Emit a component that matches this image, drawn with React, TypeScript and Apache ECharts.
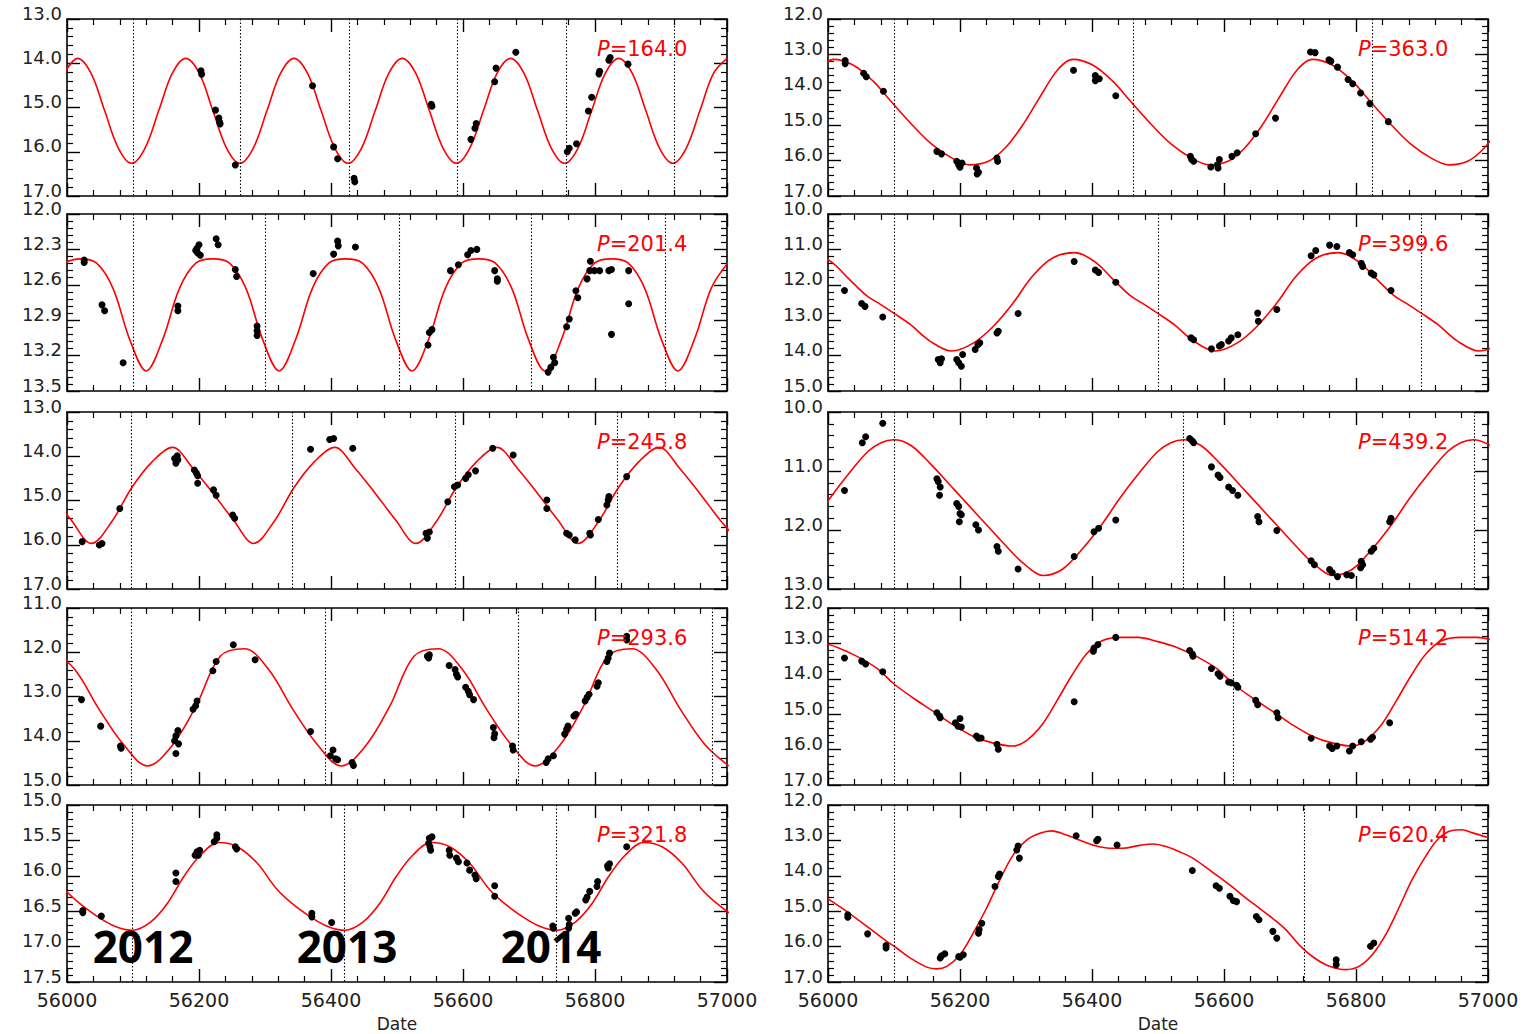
import React, { useEffect, useRef } from "react";
import * as echarts from "echarts";

type Pt = [number, number];

// ---------- axis settings ----------
const X_MIN = 56000;
const X_MAX = 57000;
const X_STEP = 200;
const periodLabels = ["164.0", "201.4", "245.8", "293.6", "321.8", "363.0", "399.6", "439.2", "514.2", "620.4"];
const yMins = [13, 12, 13, 11, 15, 12, 10, 10, 12, 12];
const yMaxs = [17, 13.5, 17, 15, 17.5, 17, 15, 13, 17, 17];
const ySteps = [1, 0.3, 1, 1, 0.5, 1, 1, 1, 1, 1];
const yearLabels = ["2012", "2013", "2014"];

// ---------- P = 164.0 ----------
const curve164: Pt[] = [[55995.5,14.23],[56016,13.89],[56036.5,14.23],[56057,15.07],[56077.5,15.91],[56098,16.26],[56118.5,15.91],[56139,15.07],[56159.5,14.23],[56180,13.89],[56200.5,14.23],[56221,15.07],[56241.5,15.91],[56262,16.26],[56282.5,15.91],[56303,15.07],[56323.5,14.23],[56344,13.89],[56364.5,14.23],[56385,15.07],[56405.5,15.91],[56426,16.26],[56446.5,15.91],[56467,15.07],[56487.5,14.23],[56508,13.89],[56528.5,14.23],[56549,15.07],[56569.5,15.91],[56590,16.26],[56610.5,15.91],[56631,15.07],[56651.5,14.23],[56672,13.89],[56692.5,14.23],[56713,15.07],[56733.5,15.91],[56754,16.26],[56774.5,15.91],[56795,15.07],[56815.5,14.23],[56836,13.89],[56856.5,14.23],[56877,15.07],[56897.5,15.91],[56918,16.26],[56938.5,15.91],[56959,15.07],[56979.5,14.23],[57000,13.89]];
const obs164: Pt[] = [[56203,14.17],[56204,14.25],[56225,15.06],[56230,15.24],[56231,15.33],[56232,15.37],[56255,16.30],[56372,14.51],[56404,15.89],[56410,16.16],[56435,16.60],[56436,16.68],[56552,14.93],[56553,14.97],[56612,15.72],[56618,15.47],[56620,15.36],[56648,14.42],[56650,14.11],[56680,13.75],[56758,16.00],[56761,15.92],[56772,15.82],[56790,15.08],[56795,14.77],[56806,14.24],[56807,14.18],[56821,13.93],[56823,13.87],[56850,14.02]];
const dotted164 = [56100, 56262, 56427, 56592, 56756, 56920];

// ---------- P = 201.4 ----------
const curve201: Pt[] = [[55994.1,12.415],[56019.3,12.38],[56044.5,12.415],[56069.7,12.63],[56094.8,13.06],[56120,13.33],[56145.2,13.06],[56170.4,12.63],[56195.5,12.415],[56220.7,12.38],[56245.9,12.415],[56271.1,12.63],[56296.2,13.06],[56321.4,13.33],[56346.6,13.06],[56371.8,12.63],[56396.9,12.415],[56422.1,12.38],[56447.3,12.415],[56472.5,12.63],[56497.6,13.06],[56522.8,13.33],[56548,13.06],[56573.2,12.63],[56598.3,12.415],[56623.5,12.38],[56648.7,12.415],[56673.9,12.63],[56699,13.06],[56724.2,13.33],[56749.4,13.06],[56774.6,12.63],[56799.7,12.415],[56824.9,12.38],[56850.1,12.415],[56875.3,12.63],[56900.4,13.06],[56925.6,13.33],[56950.8,13.06],[56976,12.63],[57001.1,12.415]];
const obs201: Pt[] = [[56026,12.39],[56026,12.41],[56053,12.77],[56057,12.82],[56085,13.26],[56168,12.78],[56168,12.82],[56195,12.31],[56197,12.29],[56198,12.33],[56200,12.26],[56202,12.35],[56226,12.21],[56229,12.26],[56255,12.47],[56257,12.53],[56288,12.95],[56288,12.99],[56288,13.03],[56373,12.505],[56404,12.34],[56410,12.23],[56411,12.27],[56437,12.28],[56547,13.11],[56549,13.005],[56553,12.98],[56581,12.48],[56593,12.43],[56607,12.345],[56612,12.31],[56621,12.30],[56648,12.48],[56652,12.55],[56652,12.57],[56729,13.34],[56733,13.30],[56737,13.215],[56739,13.26],[56757,12.955],[56761,12.89],[56771,12.65],[56774,12.71],[56788,12.55],[56792,12.48],[56793,12.40],[56799,12.48],[56807,12.48],[56821,12.48],[56825,12.47],[56825,13.02],[56851,12.48],[56851,12.76]];
const dotted201 = [56100, 56301, 56503, 56704, 56906];

// ---------- P = 245.8 ----------
const curve245: Pt[] = [[55975.6,14.84],[56006.3,15.44],[56037,15.97],[56067.7,15.48],[56098.5,14.70],[56129.2,14.12],[56159.9,13.80],[56190.6,14.27],[56221.4,14.84],[56252.1,15.44],[56282.8,15.97],[56313.5,15.48],[56344.3,14.70],[56375,14.12],[56405.7,13.80],[56436.4,14.27],[56467.2,14.84],[56497.9,15.44],[56528.6,15.97],[56559.3,15.48],[56590.1,14.70],[56620.8,14.12],[56651.5,13.80],[56682.2,14.27],[56713,14.84],[56743.7,15.44],[56774.4,15.97],[56805.1,15.48],[56835.9,14.70],[56866.6,14.12],[56897.3,13.80],[56928,14.27],[56958.8,14.84],[56989.5,15.44],[57020.2,15.97]];
const obs245: Pt[] = [[56023,15.93],[56049,16.005],[56053,15.97],[56080,15.18],[56163,14.05],[56165,14.16],[56167,13.99],[56168,14.08],[56193,14.31],[56196,14.38],[56198,14.44],[56198,14.61],[56222,14.76],[56226,14.88],[56251,15.33],[56254,15.40],[56369,13.84],[56398,13.62],[56404,13.60],[56433,13.82],[56544,15.74],[56546,15.85],[56549,15.71],[56577,15.03],[56587,14.69],[56592,14.65],[56604,14.50],[56608,14.42],[56619,14.33],[56645,13.82],[56676,13.97],[56727,14.99],[56727,15.18],[56757,15.74],[56761,15.78],[56770,15.89],[56792,15.74],[56793,15.78],[56805,15.43],[56818,15.10],[56820,14.99],[56821,14.91],[56848,14.46]];
const dotted245 = [56097, 56342, 56588, 56834];

// ---------- P = 293.6 ----------
const curve293: Pt[] = [[55975.2,11.92],[56011.9,12.39],[56048.6,13.29],[56085.3,14.08],[56122,14.57],[56158.7,14.12],[56195.4,13.22],[56232.1,12.09],[56268.8,11.92],[56305.5,12.39],[56342.2,13.29],[56378.9,14.08],[56415.6,14.57],[56452.3,14.12],[56489,13.22],[56525.7,12.09],[56562.4,11.92],[56599.1,12.39],[56635.8,13.29],[56672.5,14.08],[56709.2,14.57],[56745.9,14.12],[56782.6,13.22],[56819.3,12.09],[56856,11.92],[56892.7,12.39],[56929.4,13.29],[56966.1,14.08],[57002.8,14.57]];
const obs293: Pt[] = [[56022,13.07],[56051,13.67],[56081,14.12],[56082,14.17],[56163,14.00],[56165,13.89],[56168,13.77],[56169,14.07],[56165,14.29],[56191,13.29],[56195,13.21],[56197,13.10],[56221,12.42],[56226,12.21],[56252,11.83],[56285,12.17],[56369,13.79],[56399,14.34],[56403,14.21],[56407,14.41],[56410,14.43],[56432,14.49],[56434,14.56],[56546,12.09],[56548,12.13],[56549,12.06],[56579,12.30],[56588,12.39],[56590,12.50],[56592,12.56],[56604,12.79],[56608,12.88],[56610,12.96],[56616,13.07],[56646,13.70],[56647,13.93],[56648,13.84],[56675,14.12],[56676,14.21],[56726,14.49],[56729,14.41],[56737,14.34],[56754,13.85],[56757,13.74],[56759,13.67],[56768,13.44],[56771,13.40],[56785,13.10],[56788,13.02],[56791,12.95],[56803,12.77],[56805,12.69],[56818,12.21],[56820,12.13],[56822,12.02],[56848,11.72],[56848,11.64]];
const dotted293 = [56097, 56391, 56684, 56978];

// ---------- P = 321.8 ----------
const curve321: Pt[] = [[55966.2,15.82],[55997.2,16.20],[56027.2,16.45],[56057.2,16.64],[56077.2,16.73],[56099,16.77],[56127,16.65],[56152,16.39],[56177,16.01],[56202,15.71],[56230,15.53],[56258,15.59],[56288,15.82],[56319,16.20],[56349,16.45],[56379,16.64],[56399,16.73],[56420.8,16.77],[56448.8,16.65],[56473.8,16.39],[56498.8,16.01],[56523.8,15.71],[56551.8,15.53],[56579.8,15.59],[56609.8,15.82],[56640.8,16.20],[56670.8,16.45],[56700.8,16.64],[56720.8,16.73],[56742.6,16.77],[56770.6,16.65],[56795.6,16.39],[56820.6,16.01],[56845.6,15.71],[56873.6,15.53],[56901.6,15.59],[56931.6,15.82],[56962.6,16.20],[56992.6,16.45],[57022.6,16.64]];
const obs321: Pt[] = [[56024,16.49],[56024,16.52],[56052,16.57],[56165,15.96],[56165,16.08],[56194,15.71],[56197,15.66],[56199,15.71],[56201,15.64],[56223,15.52],[56227,15.42],[56227,15.47],[56255,15.59],[56257,15.62],[56371,16.53],[56371,16.58],[56401,16.66],[56548,15.54],[56549,15.47],[56550,15.59],[56551,15.64],[56553,15.45],[56579,15.64],[56580,15.71],[56590,15.75],[56593,15.80],[56606,15.82],[56610,15.92],[56618,15.99],[56620,16.04],[56648,16.14],[56648,16.29],[56736,16.71],[56737,16.74],[56760,16.60],[56760,16.74],[56761,16.69],[56770,16.53],[56772,16.51],[56786,16.34],[56788,16.30],[56792,16.22],[56803,16.15],[56804,16.08],[56819,15.86],[56820,15.89],[56822,15.83],[56848,15.59]];
const dotted321 = [56099, 56420, 56741];

// ---------- P = 363.0 ----------
const curve363: Pt[] = [[55995,13.25],[56008,13.14],[56038,13.30],[56068,13.75],[56098,14.38],[56128,15.00],[56158,15.55],[56188,15.93],[56215,16.12],[56243,16.02],[56268,15.65],[56293,15.05],[56318,14.30],[56343,13.55],[56358,13.25],[56371,13.14],[56401,13.30],[56431,13.75],[56461,14.38],[56491,15.00],[56521,15.55],[56551,15.93],[56578,16.12],[56606,16.02],[56631,15.65],[56656,15.05],[56681,14.30],[56706,13.55],[56721,13.25],[56734,13.14],[56764,13.30],[56794,13.75],[56824,14.38],[56854,15.00],[56884,15.55],[56914,15.93],[56941,16.12],[56969,16.02],[56994,15.65],[57019,15.05]];
const obs363: Pt[] = [[56026,13.17],[56026,13.26],[56054,13.53],[56058,13.63],[56084,14.04],[56165,15.74],[56172,15.81],[56195,16.02],[56198,16.12],[56200,16.19],[56203,16.07],[56225,16.21],[56228,16.33],[56226,16.38],[56256,15.93],[56257,16.02],[56372,13.45],[56405,13.60],[56405,13.74],[56411,13.69],[56436,14.17],[56549,15.88],[56551,15.97],[56554,16.02],[56580,16.18],[56590,16.12],[56591,16.21],[56593,15.97],[56612,15.88],[56620,15.78],[56648,15.24],[56678,14.80],[56731,12.93],[56738,12.95],[56759,13.15],[56762,13.19],[56772,13.36],[56788,13.71],[56795,13.83],[56807,14.09],[56821,14.39],[56849,14.90]];
const dotted363 = [56100, 56462, 56825];

// ---------- P = 399.6 ----------
const curve399: Pt[] = [[55974,11.09],[56004,11.34],[56032,11.84],[56058,12.30],[56080,12.56],[56099.6,12.80],[56124.6,13.12],[56154.6,13.59],[56187.6,13.87],[56220.6,13.64],[56250.6,13.17],[56280.6,12.51],[56309.6,11.76],[56339.6,11.25],[56373.6,11.09],[56403.6,11.34],[56431.6,11.84],[56457.6,12.30],[56479.6,12.56],[56499.2,12.80],[56524.2,13.12],[56554.2,13.59],[56587.2,13.87],[56620.2,13.64],[56650.2,13.17],[56680.2,12.51],[56709.2,11.76],[56739.2,11.25],[56773.2,11.09],[56803.2,11.34],[56831.2,11.84],[56857.2,12.30],[56879.2,12.56],[56898.8,12.80],[56923.8,13.12],[56953.8,13.59],[56986.8,13.87],[57019.8,13.64]];
const obs399: Pt[] = [[56025,12.16],[56051,12.53],[56056,12.61],[56083,12.91],[56167,14.11],[56170,14.20],[56172,14.09],[56195,14.11],[56198,14.20],[56202,14.30],[56204,13.97],[56223,13.83],[56227,13.69],[56230,13.64],[56256,13.36],[56258,13.31],[56288,12.81],[56373,11.34],[56405,11.58],[56410,11.65],[56436,11.93],[56550,13.50],[56554,13.55],[56581,13.81],[56593,13.73],[56596,13.69],[56607,13.59],[56611,13.50],[56621,13.41],[56651,12.80],[56652,13.03],[56680,12.70],[56732,11.18],[56739,11.03],[56760,10.88],[56771,10.92],[56790,11.09],[56795,11.15],[56808,11.39],[56810,11.48],[56823,11.67],[56827,11.72],[56853,12.16]];
const dotted399 = [56100, 56500, 56899];

// ---------- P = 439.2 ----------
const curve439: Pt[] = [[55975.4,11.91],[56002.4,11.47],[56030.4,11.06],[56060.4,10.67],[56080.4,10.52],[56099.6,10.47],[56124.6,10.56],[56154.6,10.87],[56191.6,11.32],[56228.6,11.77],[56265.6,12.22],[56295.6,12.56],[56326.6,12.77],[56354.6,12.67],[56384.6,12.33],[56414.6,11.91],[56441.6,11.47],[56469.6,11.06],[56499.6,10.67],[56519.6,10.52],[56538.8,10.47],[56563.8,10.56],[56593.8,10.87],[56630.8,11.32],[56667.8,11.77],[56704.8,12.22],[56734.8,12.56],[56765.8,12.77],[56793.8,12.67],[56823.8,12.33],[56853.8,11.91],[56880.8,11.47],[56908.8,11.06],[56938.8,10.67],[56958.8,10.52],[56978,10.47],[57003,10.56]];
const obs439: Pt[] = [[56025,11.33],[56052,10.52],[56057,10.42],[56083,10.19],[56165,11.13],[56167,11.18],[56170,11.27],[56169,11.41],[56195,11.55],[56198,11.60],[56200,11.72],[56199,11.86],[56202,11.74],[56224,11.91],[56228,12.00],[56256,12.28],[56258,12.36],[56288,12.66],[56373,12.45],[56403,12.03],[56410,11.97],[56436,11.83],[56548,10.45],[56552,10.49],[56554,10.52],[56581,10.93],[56591,11.07],[56594,11.11],[56607,11.27],[56613,11.33],[56621,11.41],[56651,11.77],[56653,11.86],[56680,12.01],[56732,12.52],[56737,12.59],[56760,12.67],[56764,12.72],[56772,12.79],[56786,12.76],[56793,12.77],[56807,12.64],[56808,12.53],[56810,12.59],[56823,12.36],[56827,12.31],[56851,11.86],[56853,11.80]];
const dotted439 = [56100, 56538, 56979];

// ---------- P = 514.2 ----------
const curve514: Pt[] = [[55985.4,12.95],[56015.4,13.12],[56045.4,13.38],[56075.4,13.72],[56099.6,14.14],[56129.6,14.55],[56159.6,14.92],[56189.6,15.30],[56219.6,15.62],[56249.6,15.81],[56279.6,15.90],[56299.6,15.76],[56324.6,15.29],[56346.6,14.63],[56369.6,13.90],[56391.6,13.30],[56414.6,12.93],[56444.6,12.83],[56469.6,12.83],[56499.6,12.95],[56529.6,13.12],[56559.6,13.38],[56589.6,13.72],[56613.8,14.14],[56643.8,14.55],[56673.8,14.92],[56703.8,15.30],[56733.8,15.62],[56763.8,15.81],[56793.8,15.90],[56813.8,15.76],[56838.8,15.29],[56860.8,14.63],[56883.8,13.90],[56905.8,13.30],[56928.8,12.93],[56958.8,12.83],[56983.8,12.83],[57013.8,12.95]];
const obs514: Pt[] = [[56025,13.41],[56051,13.50],[56057,13.58],[56083,13.80],[56165,14.96],[56169,15.05],[56170,15.10],[56193,15.24],[56197,15.34],[56200,15.12],[56202,15.36],[56225,15.62],[56228,15.68],[56232,15.67],[56256,15.85],[56258,15.99],[56373,14.65],[56402,13.22],[56403,13.13],[56409,13.03],[56436,12.83],[56548,13.20],[56552,13.30],[56553,13.36],[56581,13.71],[56591,13.86],[56594,13.93],[56607,14.09],[56611,14.11],[56619,14.18],[56621,14.24],[56648,14.61],[56651,14.73],[56680,14.96],[56682,15.10],[56732,15.68],[56760,15.90],[56764,15.97],[56771,15.90],[56790,16.04],[56795,15.90],[56808,15.78],[56822,15.71],[56825,15.65],[56851,15.24]];
const dotted514 = [56100, 56614];

// ---------- P = 620.4 ----------
const curve620: Pt[] = [[56000,14.65],[56028.7,15.01],[56059,15.43],[56089,15.85],[56104,16.04],[56124.4,16.32],[56149.6,16.58],[56164.7,16.63],[56180,16.56],[56200,16.23],[56220,15.62],[56240.3,14.91],[56260.5,14.11],[56280.6,13.41],[56300.8,12.99],[56320.9,12.80],[56338.6,12.73],[56361.2,12.85],[56386.4,13.03],[56406.6,13.16],[56426.7,13.22],[56446.9,13.22],[56472,13.14],[56492,13.10],[56512.3,13.17],[56532.4,13.32],[56552.6,13.50],[56572.7,13.76],[56592.9,14.04],[56613,14.32],[56633.2,14.63],[56653.3,14.91],[56673.5,15.20],[56693.6,15.52],[56713.8,15.95],[56733.9,16.28],[56754,16.51],[56774.2,16.63],[56784.3,16.65],[56804.5,16.56],[56824.6,16.23],[56844.8,15.67],[56864.9,14.91],[56885,14.11],[56905.2,13.46],[56925.4,12.94],[56945.5,12.72],[56960.6,12.70],[56975.7,12.78],[57000,12.92]];
const obs620: Pt[] = [[56030,15.10],[56030,15.17],[56060,15.64],[56088,15.97],[56088,16.04],[56170,16.32],[56172,16.26],[56177,16.20],[56198,16.28],[56200,16.30],[56205,16.23],[56228,15.62],[56229,15.52],[56233,15.34],[56253,14.30],[56258,14.02],[56260,13.95],[56286,13.27],[56288,13.16],[56290,13.50],[56376,12.87],[56407,13.01],[56409,12.97],[56438,13.13],[56552,13.85],[56588,14.28],[56593,14.35],[56609,14.58],[56614,14.70],[56619,14.73],[56649,15.15],[56653,15.24],[56674,15.57],[56680,15.76],[56770,16.37],[56770,16.51],[56822,15.99],[56827,15.90]];
const dotted620 = [56101, 56721];

const curves = [curve164, curve201, curve245, curve293, curve321, curve363, curve399, curve439, curve514, curve620];
const observations = [obs164, obs201, obs245, obs293, obs321, obs363, obs399, obs439, obs514, obs620];
const dottedLines = [dotted164, dotted201, dotted245, dotted293, dotted321, dotted363, dotted399, dotted439, dotted514, dotted620];

// ---------- layout ----------
const COL_LEFT = [67, 828];
const ROW_TOP = [19, 214, 412, 608, 805];
const PANEL_W = 660;
const PANEL_H = 177;
const FONT = "DejaVu Sans";

function buildOption() {
  const grid: any[] = [];
  const xAxis: any[] = [];
  const yAxis: any[] = [];
  const series: any[] = [];
  const graphic: any[] = [];

  const lineCol = "#000";
  const axisLine = { show: true, onZero: false, lineStyle: { color: lineCol, width: 1.6 } };
  const axisTick = { show: true, inside: true, length: 13, lineStyle: { color: lineCol, width: 1.4 } };
  const minorTick = { show: true, splitNumber: 5, length: 6, lineStyle: { color: lineCol, width: 1.2 } };

  for (let i = 0; i < 10; i++) {
    const col = i < 5 ? 0 : 1;
    const row = i % 5;
    const left = COL_LEFT[col];
    const top = ROW_TOP[row];
    grid.push({ left, top, width: PANEL_W, height: PANEL_H, outerBoundsMode: "none", containLabel: false });

    const bottomRow = row === 4;
    const xBase = {
      type: "value",
      gridIndex: i,
      min: X_MIN,
      max: X_MAX,
      interval: X_STEP,
      axisLine,
      axisTick,
      minorTick,
      splitLine: { show: false },
      minorSplitLine: { show: false },
    };
    xAxis.push({
      ...xBase,
      position: "bottom",
      axisLabel: bottomRow
        ? {
            show: true,
            fontSize: 19,
            lineHeight: 16,
            fontFamily: FONT,
            color: "#222",
            margin: 10,
            showMinLabel: true,
            showMaxLabel: true,
            formatter: (v: number) => String(Math.round(v)),
          }
        : { show: false },
      name: bottomRow ? "Date" : "",
      nameLocation: "middle",
      nameGap: 33,
      nameTextStyle: { fontSize: 17, lineHeight: 17, fontFamily: FONT, color: "#222" },
    });
    xAxis.push({ ...xBase, position: "top", axisLabel: { show: false } });

    const yBase = {
      type: "value",
      gridIndex: i,
      inverse: true,
      min: yMins[i],
      max: yMaxs[i],
      interval: ySteps[i],
      axisLine,
      axisTick,
      minorTick,
      splitLine: { show: false },
      minorSplitLine: { show: false },
    };
    yAxis.push({
      ...yBase,
      position: "left",
      axisLabel: {
        show: true,
        fontSize: 18,
        lineHeight: 12,
        fontFamily: FONT,
        color: "#222",
        margin: 5,
        showMinLabel: true,
        showMaxLabel: true,
        verticalAlign: "bottom",
        formatter: (v: number) => v.toFixed(1),
      },
    });
    yAxis.push({ ...yBase, position: "right", axisLabel: { show: false } });

    series.push({
      type: "line",
      xAxisIndex: 2 * i,
      yAxisIndex: 2 * i,
      data: curves[i],
      showSymbol: false,
      symbol: "none",
      smooth: 0.35,
      clip: true,
      silent: true,
      z: 2,
      lineStyle: { color: "#ff0000", width: 1.6 },
    });
    series.push({
      type: "scatter",
      xAxisIndex: 2 * i,
      yAxisIndex: 2 * i,
      data: observations[i],
      symbol: "circle",
      symbolSize: 7,
      silent: true,
      z: 3,
      itemStyle: { color: "#000", opacity: 1 },
      markLine: {
        silent: true,
        symbol: ["none", "none"],
        label: { show: false },
        lineStyle: { color: "#000", type: [1.5, 2], width: 1.1, opacity: 1 },
        data: dottedLines[i].map((v) => ({ xAxis: v })),
      },
    });

    graphic.push({
      type: "text",
      x: left + 530,
      y: top + 30,
      z: 10,
      style: {
        text: `{i|P}=${periodLabels[i]}`,
        rich: { i: { fontStyle: "italic", fill: "#ff0000", fontSize: 21, fontFamily: FONT } },
        fill: "#ff0000",
        fontSize: 21,
        fontFamily: FONT,
        align: "left",
        verticalAlign: "middle",
      },
    });
  }

  const yearX = [143, 347, 551];
  yearLabels.forEach((t, k) => {
    graphic.push({
      type: "text",
      x: yearX[k],
      y: 946,
      z: 20,
      style: {
        text: t,
        fontSize: 44,
        fontWeight: "bold",
        fontFamily: "Open Sans",
        fill: "#000",
        align: "center",
        verticalAlign: "middle",
      },
    });
  });

  return {
    animation: false,
    backgroundColor: "#fff",
    grid,
    xAxis,
    yAxis,
    series,
    graphic,
  };
}

export default function App() {
  const ref = useRef<HTMLDivElement>(null);
  useEffect(() => {
    if (!ref.current) return;
    const chart = echarts.init(ref.current, undefined, { renderer: "svg" });
    chart.setOption(buildOption() as any);
    return () => chart.dispose();
  }, []);
  return (
    <div
      ref={ref}
      style={{ position: "absolute", left: 0, top: 0, width: 1528, height: 1034, background: "#fff" }}
    />
  );
}
